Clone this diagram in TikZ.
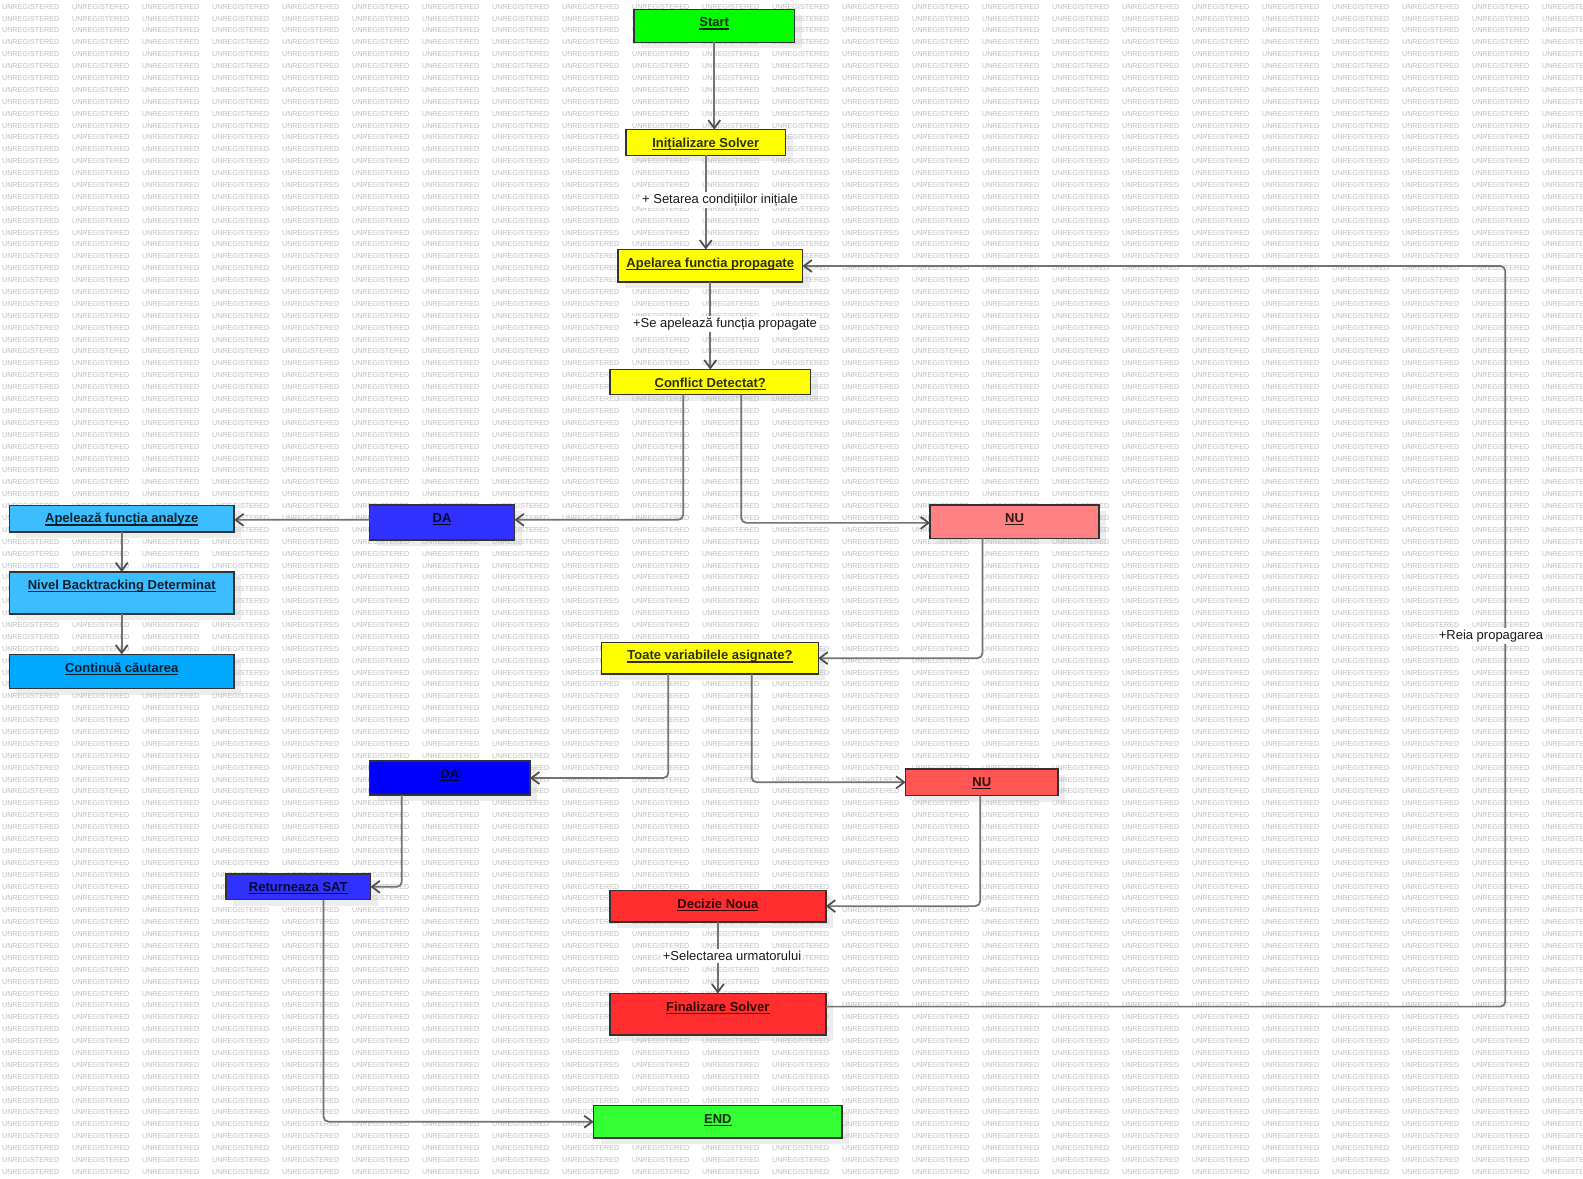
\documentclass[tikz,border=0pt]{standalone}
\usepackage{fontspec}
\setmainfont{Liberation Sans}
\usetikzlibrary{arrows.meta,calc}
\pgfdeclarelayer{bg}\pgfdeclarelayer{shd}\pgfdeclarelayer{wm}
\pgfsetlayers{bg,shd,wm,main}
\definecolor{cStart}{HTML}{00FF00}
\definecolor{cEnd}{HTML}{33FF33}
\definecolor{cYel}{HTML}{FFFF00}
\definecolor{cBlueA}{HTML}{3030FF}
\definecolor{cBlueB}{HTML}{0000FF}
\definecolor{cNuA}{HTML}{FF8080}
\definecolor{cNuB}{HTML}{FF5555}
\definecolor{cCyanA}{HTML}{3BBDFF}
\definecolor{cCyanB}{HTML}{00A8FF}
\definecolor{cRed}{HTML}{FF2D2D}
\definecolor{cShd}{HTML}{EDEDED}
\definecolor{cWm}{HTML}{BEBEBE}
\newcommand\undl[1]{\setbox0=\hbox{#1}\rlap{\rule[-0.22em]{\wd0}{0.1em}}\box0}
\newcommand\wmw{\makebox[35pt][l]{UNREGISTERED}}
\newcommand\wmline{\wmw\wmw\wmw\wmw\wmw\wmw\wmw\wmw\wmw\wmw\wmw\wmw\wmw\wmw\wmw\wmw\wmw\wmw\wmw\wmw\wmw\wmw\wmw}
\newcommand\bx[7]{%
  \pgfmathsetmacro\bw{(#4-#2)*0.5}%
  \pgfmathsetmacro\bh{(#5-#3)*0.5}%
  \begin{pgfonlayer}{shd}\fill[cShd] (#2+7,#3+6) rectangle (#4+7,#5+6);\end{pgfonlayer}%
  \node[boxn, fill=#6, minimum width=\bw pt, minimum height=\bh pt, anchor=north west] (#1) at (#2,#3) {};%
  \node[boxtext, anchor=base] (#1-t) at ($(#1.north)+(0,17.6)$) {\undl{#7}};%
}
\begin{document}
\begin{tikzpicture}[x=0.5pt,y=-0.5pt,
  boxn/.style={draw=black!80, line width=0.75pt, inner sep=0pt, outer sep=0pt},
  boxtext/.style={inner sep=0pt, font=\bfseries\fontsize{6.5}{7.8}\selectfont, text=black, text opacity=0.82},
  elab/.style={fill=white, inner sep=1pt, font=\fontsize{6.5}{7.8}\selectfont, text=black!90},
  wm/.style={anchor=west, inner sep=0pt, font=\fontsize{3.6}{4}\selectfont, text=cWm},
  conn/.style={draw=black!55, line width=0.85pt, rounded corners=2.5pt, -{Straight Barb[length=4pt,width=6pt,color=black!70]}}
]
\useasboundingbox (0,0) rectangle (1583,1178);
\begin{pgfonlayer}{bg}\fill[white] (0,0) rectangle (1583,1178);\end{pgfonlayer}
\begin{pgfonlayer}{wm}
\foreach \r in {0,...,98} {\node[wm] (wm\r) at (1.7,6.7+11.89*\r) {\wmline};}
\end{pgfonlayer}

\bx{start}{634}{9.3}{794.5}{42.4}{cStart}{Start}
\bx{init}{626}{129.5}{785.5}{155.3}{cYel}{Inițializare Solver}
\bx{apel}{618}{249.5}{802.5}{282}{cYel}{Apelarea functia propagate}
\bx{confl}{610}{369.5}{810.5}{394.5}{cYel}{Conflict Detectat?}
\bx{da1}{369.5}{505}{514.5}{540}{cBlueA}{DA}
\bx{nu1}{930}{505}{1099}{538.3}{cNuA}{NU}
\bx{analyze}{9.3}{505.3}{234.2}{531.8}{cCyanA}{Apelează funcția analyze}
\bx{nivel}{9.3}{572}{234.2}{614}{cCyanA}{Nivel Backtracking Determinat}
\bx{cont}{9.3}{654.4}{234.2}{688.5}{cCyanB}{Continuă căutarea}
\bx{toate}{601.7}{642.3}{818.3}{674}{cYel}{Toate variabilele asignate?}
\bx{da2}{369.5}{761}{530}{795}{cBlueB}{DA}
\bx{nu2}{905.6}{769}{1058}{795.6}{cNuB}{NU}
\bx{ret}{226}{874}{370.5}{899.6}{cBlueA}{Returneaza SAT}
\bx{dec}{609.8}{890.4}{825.9}{921.8}{cRed}{Decizie Noua}
\bx{fin}{609.8}{993.4}{825.9}{1034.8}{cRed}{Finalizare Solver}
\bx{endn}{593.6}{1105.5}{842}{1137.8}{cEnd}{END}

\draw[conn] (start.south) -- (start.south |- init.north);
\draw[conn] (init.south) -- (init.south |- apel.north);
\draw[conn] (apel.south) -- (apel.south |- confl.north);
\draw[conn] ($(confl.south)+(-27,0)$) |- ($(da1.east)+(0,-2.7)$);
\draw[conn] ($(confl.south)+(31,0)$) |- ($(nu1.west)+(0,1.2)$);
\draw[conn] ($(da1.west)+(0,-2.7)$) -- ($(analyze.east)+(0,1.3)$);
\draw[conn] (analyze.south) -- (analyze.south |- nivel.north);
\draw[conn] (nivel.south) -- (nivel.south |- cont.north);
\draw[conn] ($(nu1.south)+(-32,0)$) |- (toate.east);
\draw[conn] ($(toate.south)+(-41.7,0)$) |- (da2.east);
\draw[conn] ($(toate.south)+(41.7,0)$) |- (nu2.west);
\draw[conn] ($(da2.south)+(-48,0)$) |- (ret.east);
\draw[conn] ($(nu2.south)+(-1.5,0)$) |- (dec.east);
\draw[conn] ($(ret.south)+(25.25,0)$) |- (endn.west);
\draw[conn] (dec.south) -- (dec.south |- fin.north);
\coordinate (lp) at (1505.3,266);
\draw[conn] ($(fin.east)+(0,-7.5)$) -| (lp) -- (lp -| apel.east);

\node[elab] (l1) at (720,200) {+ Setarea condițiilor inițiale};
\node[elab] (l2) at (725,324) {+Se apelează funcția propagate};
\node[elab] (l3) at (732,956) {+Selectarea urmatorului};
\node[elab] (l4) at (1491,636) {+Reia propagarea};
\end{tikzpicture}
\end{document}
